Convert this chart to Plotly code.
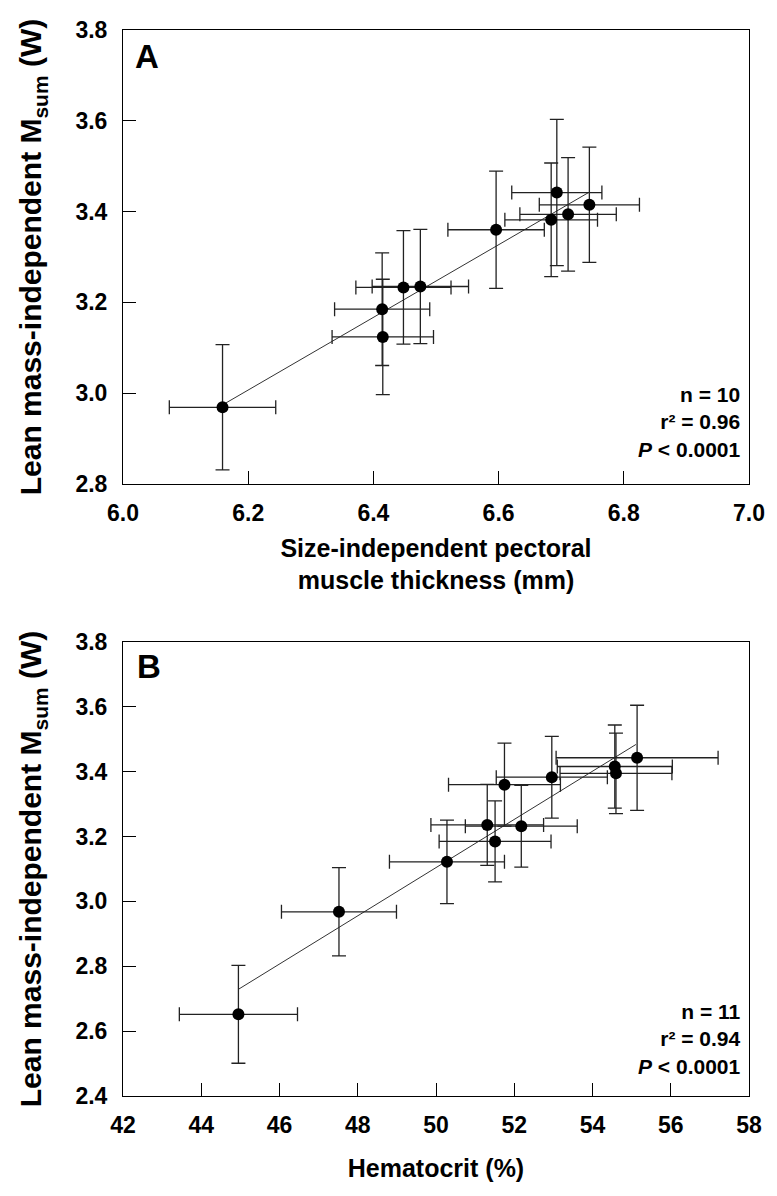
import plotly.graph_objects as go

# Panel A data
a_x = [6.159, 6.415, 6.414, 6.448, 6.475, 6.596, 6.693, 6.684, 6.711, 6.745]
a_y = [2.969, 3.124, 3.185, 3.233, 3.235, 3.360, 3.442, 3.382, 3.394, 3.415]
a_xerr = [0.085, 0.081, 0.076, 0.076, 0.077, 0.077, 0.072, 0.074, 0.077, 0.080]
a_yerr = [0.138, 0.127, 0.124, 0.125, 0.126, 0.129, 0.161, 0.125, 0.125, 0.127]
a_fit_x = [6.16, 6.745]
a_fit_y = [2.975, 3.443]

# Panel B data
b_x = [44.95, 47.52, 50.28, 51.31, 51.51, 52.18, 51.75, 52.96, 54.57, 54.60, 55.14]
b_y = [2.652, 2.968, 3.122, 3.236, 3.185, 3.232, 3.360, 3.383, 3.416, 3.395, 3.443]
b_xerr = [1.51, 1.47, 1.47, 1.44, 1.43, 1.43, 1.43, 1.42, 1.47, 1.43, 2.07]
b_yerr = [0.151, 0.136, 0.129, 0.125, 0.125, 0.126, 0.128, 0.126, 0.128, 0.124, 0.162]
b_fit_x = [44.95, 55.11]
b_fit_y = [2.729, 3.484]

a_xticks = [6.0, 6.2, 6.4, 6.6, 6.8, 7.0]
a_yticks = [2.8, 3.0, 3.2, 3.4, 3.6, 3.8]
b_xticks = [42, 44, 46, 48, 50, 52, 54, 56, 58]
b_yticks = [2.4, 2.6, 2.8, 3.0, 3.2, 3.4, 3.6, 3.8]

FONT = "Liberation Sans, Arial, sans-serif"
ERR_COL = "#222222"

fig = go.Figure()


def add_panel(xs, ys, xe, ye, fx, fy, xa, ya):
    fig.add_trace(go.Scatter(
        x=fx, y=fy, mode="lines", line=dict(color="#333333", width=1),
        xaxis=xa, yaxis=ya, showlegend=False, hoverinfo="skip"))
    fig.add_trace(go.Scatter(
        x=xs, y=ys, mode="markers",
        marker=dict(color="black", size=12),
        error_x=dict(type="data", array=xe, color=ERR_COL, thickness=1.3, width=7),
        error_y=dict(type="data", array=ye, color=ERR_COL, thickness=1.3, width=7),
        xaxis=xa, yaxis=ya, showlegend=False))


add_panel(a_x, a_y, a_xerr, a_yerr, a_fit_x, a_fit_y, "x", "y")
add_panel(b_x, b_y, b_xerr, b_yerr, b_fit_x, b_fit_y, "x2", "y2")

axis_common = dict(
    showline=True, linecolor="black", linewidth=1, mirror=True,
    ticks="inside", ticklen=13, tickcolor="black", tickwidth=1,
    showgrid=False, zeroline=False,
    tickfont=dict(family=FONT, size=23, color="black", weight="bold"),
)

ytitle = "Lean mass-independent M<sub>sum</sub> (W)"
title_font = dict(family=FONT, size=25, color="black", weight="bold")
ytitle_font = dict(family=FONT, size=30, color="black", weight="bold")

fig.update_layout(
    width=777, height=1196,
    margin=dict(l=123, r=20, t=30, b=100),
    plot_bgcolor="white", paper_bgcolor="white",
    xaxis=dict(domain=[0, 1], range=[6.0, 7.0], tickvals=a_xticks,
               ticktext=[f"{v:.1f}" for v in a_xticks], anchor="y",
               title=dict(text="Size-independent pectoral<br>muscle thickness (mm)",
                          font=title_font, standoff=14),
               ticklabelstandoff=8, **axis_common),
    yaxis=dict(domain=[0.5741, 1], range=[2.8, 3.8], tickvals=a_yticks,
               ticktext=[f"{v:.1f}" for v in a_yticks], anchor="x",
               title=dict(text=ytitle, font=ytitle_font, standoff=24),
               ticklabelstandoff=10, **axis_common),
    xaxis2=dict(domain=[0, 1], range=[42, 58], tickvals=b_xticks,
                ticktext=[str(v) for v in b_xticks], anchor="y2",
                title=dict(text="Hematocrit (%)", font=title_font, standoff=22),
                ticklabelstandoff=8, **axis_common),
    yaxis2=dict(domain=[0, 0.4259], range=[2.4, 3.8], tickvals=b_yticks,
                ticktext=[f"{v:.1f}" for v in b_yticks], anchor="x2",
                title=dict(text=ytitle, font=ytitle_font, standoff=24),
                ticklabelstandoff=10, **axis_common),
)

stat_font = dict(family=FONT, size=21, color="black", weight="bold")
fig.add_annotation(x=0.99, y=0.137, xref="x domain", yref="y domain",
                   xanchor="right", yanchor="middle", align="right", showarrow=False,
                   text="n = 10<br>r² = 0.96<br><i>P</i> &lt; 0.0001", font=stat_font)
fig.add_annotation(x=0.99, y=0.125, xref="x2 domain", yref="y2 domain",
                   xanchor="right", yanchor="middle", align="right", showarrow=False,
                   text="n = 11<br>r² = 0.94<br><i>P</i> &lt; 0.0001", font=stat_font)

letter_font = dict(family=FONT, size=33, color="black", weight="bold")
fig.add_annotation(x=0.039, y=0.941, xref="x domain", yref="y domain",
                   xanchor="center", yanchor="middle", showarrow=False,
                   text="A", font=letter_font)
fig.add_annotation(x=0.041, y=0.9456, xref="x2 domain", yref="y2 domain",
                   xanchor="center", yanchor="middle", showarrow=False,
                   text="B", font=letter_font)

fig.write_html("out.html")
